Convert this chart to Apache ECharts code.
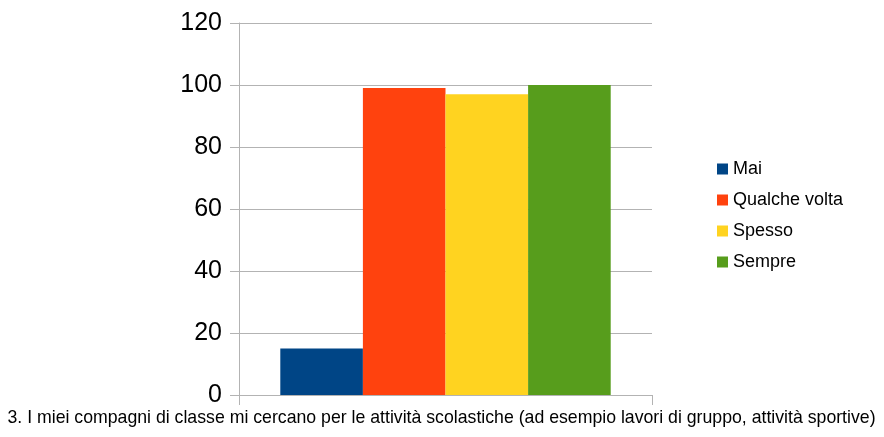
<!DOCTYPE html>
<html>
<head>
<meta charset="utf-8">
<script src="https://cdn.jsdelivr.net/npm/echarts@6/dist/echarts.min.js"></script>
<style>
  html, body { margin: 0; padding: 0; background: #fff; }
  #chart { width: 884px; height: 437px; }
</style>
</head>
<body>
<div id="chart"></div>
<script>
const categories = ['3. I miei compagni di classe mi cercano per le attività scolastiche (ad esempio lavori di gruppo, attività sportive)'];
const seriesNames = ['Mai', 'Qualche volta', 'Spesso', 'Sempre'];
const seriesValues = [[15], [99], [97], [100]];
const colors = ['#004586', '#ff420e', '#ffd320', '#579d1c'];

const font = '"Liberation Sans Narrow", "Liberation Sans", sans-serif';

const series = seriesNames.map((name, i) => ({
    name: name,
    type: 'bar',
    data: seriesValues[i],
    barGap: '0%',
    barCategoryGap: '20%',
    itemStyle: { color: colors[i] }
}));

const option = {
    backgroundColor: '#ffffff',
    animation: false,
    grid: {
        left: 239,
        right: 232,
        top: 23,
        bottom: 42,
        containLabel: false,
        outerBoundsMode: 'none'
    },
    legend: {
        orient: 'vertical',
        left: 712,
        top: 155,
        itemWidth: 11,
        itemHeight: 11,
        itemGap: 13,
        icon: 'rect',
        textStyle: { fontFamily: font, fontSize: 18, color: '#000' },
        data: seriesNames
    },
    xAxis: {
        type: 'category',
        data: categories,
        axisLine: { lineStyle: { color: '#b3b3b3' } },
        axisTick: { show: true, alignWithLabel: false, length: 10, lineStyle: { color: '#b3b3b3' } },
        axisLabel: { fontFamily: font, fontSize: 17.7, color: '#000', margin: 14, interval: 0, padding: [0, 8, 0, 0] }
    },
    yAxis: {
        type: 'value',
        min: 0,
        max: 120,
        interval: 20,
        axisLine: { show: true, lineStyle: { color: '#b3b3b3' } },
        axisTick: { show: true, length: 9, lineStyle: { color: '#b3b3b3' } },
        axisLabel: { fontFamily: font, fontSize: 25, color: '#000', margin: 17 },
        splitLine: { show: true, lineStyle: { color: '#b3b3b3' } }
    },
    series: series
};

const myChart = echarts.init(document.getElementById('chart'));
myChart.setOption(option);
</script>
</body>
</html>
